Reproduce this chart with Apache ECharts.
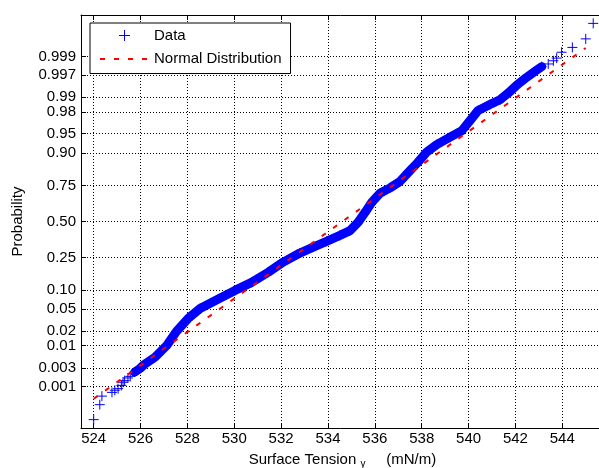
<!DOCTYPE html>
<html>
<head>
<meta charset="utf-8">
<script src="https://cdn.jsdelivr.net/npm/echarts@6/dist/echarts.min.js"></script>
<style>html,body{margin:0;padding:0;background:#fff}#c{width:599px;height:468px}</style>
</head>
<body>
<div id="c"></div>
<script>
// ---- data ----
// surface tension (mN/m) and normal score (standard normal quantile of the plotting position)
const lowTailTension = [524.00, 524.26, 524.35, 524.78, 524.90, 525.04, 525.18, 525.25, 525.32, 525.46, 525.56];
const lowTailScore   = [-3.71, -3.43, -3.27, -3.20, -3.16, -3.13, -3.07, -3.01, -2.98, -2.93, -2.90];

const denseTension = [525.75, 525.98, 526.15, 526.62, 527.12, 527.53, 528.04, 528.54, 529.32, 530.03,
                      530.74, 531.45, 532.09, 532.80, 533.37, 533.94, 534.51, 534.94, 535.29, 535.58,
                      535.87, 536.22, 536.65, 537.07, 537.41, 537.82, 538.21, 538.64, 539.21, 539.71,
                      540.06, 540.41, 540.91, 541.34, 541.68, 542.05, 542.48, 542.83, 543.12];
const denseScore   = [-2.82, -2.75, -2.68, -2.54, -2.32, -2.06, -1.81, -1.63, -1.45, -1.29,
                      -1.14, -0.95, -0.76, -0.59, -0.48, -0.37, -0.26, -0.17, -0.01, 0.17,
                      0.36, 0.53, 0.63, 0.75, 0.91, 1.10, 1.30, 1.44, 1.58, 1.70,
                      1.89, 2.08, 2.19, 2.28, 2.40, 2.55, 2.70, 2.81, 2.90];

const highTailTension = [543.40, 543.62, 543.76, 543.97, 544.43, 545.00, 545.32];
const highTailScore   = [2.95, 3.01, 3.06, 3.17, 3.26, 3.42, 3.71];

// fitted normal reference line (end points)
const refLineTension = [524.00, 545.00];
const refLineScore   = [-3.32, 3.25];

// tick labels
const probTickLabels = ['0.001','0.003','0.01','0.02','0.05','0.10','0.25','0.50','0.75','0.90','0.95','0.98','0.99','0.997','0.999'];
const tensionTicks = [524, 526, 528, 530, 532, 534, 536, 538, 540, 542, 544];

// ---- normal probability scale (inverse standard normal CDF) ----
function probit(p) {
  const a=[-3.969683028665376e+01,2.209460984245205e+02,-2.759285104469687e+02,1.383577518672690e+02,-3.066479806614716e+01,2.506628277459239e+00];
  const b=[-5.447609879822406e+01,1.615858368580409e+02,-1.556989798598866e+02,6.680131188771972e+01,-1.328068155288572e+01];
  const c=[-7.784894002430293e-03,-3.223964580411365e-01,-2.400758277161838e+00,-2.549732539343734e+00,4.374664141464968e+00,2.938163982698783e+00];
  const d=[7.784695709041462e-03,3.224671290700398e-01,2.445134137142996e+00,3.754408661907416e+00];
  const pl=0.02425, ph=1-pl; let q, r;
  if (p < pl) { q=Math.sqrt(-2*Math.log(p)); return (((((c[0]*q+c[1])*q+c[2])*q+c[3])*q+c[4])*q+c[5])/((((d[0]*q+d[1])*q+d[2])*q+d[3])*q+1); }
  if (p > ph) { q=Math.sqrt(-2*Math.log(1-p)); return -(((((c[0]*q+c[1])*q+c[2])*q+c[3])*q+c[4])*q+c[5])/((((d[0]*q+d[1])*q+d[2])*q+d[3])*q+1); }
  q=p-0.5; r=q*q;
  return (((((a[0]*r+a[1])*r+a[2])*r+a[3])*r+a[4])*r+a[5])*q/(((((b[0]*r+b[1])*r+b[2])*r+b[3])*r+b[4])*r+1);
}
const probTickValues = probTickLabels.map(s => probit(parseFloat(s)));

const pair = (xs, ys) => xs.map((x, i) => [x, ys[i]]);
const allData = pair(lowTailTension, lowTailScore).concat(pair(denseTension, denseScore), pair(highTailTension, highTailScore));
const bandData = pair(denseTension, denseScore);
const refData = pair(refLineTension, refLineScore);

const FONT = "'Liberation Sans', Arial, sans-serif";
const plusPath = 'path://M0,5L10,5M5,0L5,10';

const chart = echarts.init(document.getElementById('c'), null, {renderer: 'canvas'});
chart.setOption({
  animation: false,
  backgroundColor: '#fff',
  grid: {left: 81, right: -5, top: 15, bottom: 40, containLabel: false, outerBoundsMode: 'none'},
  legend: {
    orient: 'vertical', left: 90, top: 23,
    data: [{name: 'Data'}, {name: 'Normal Distribution', itemStyle: {opacity: 0}}],
    itemWidth: 49, itemHeight: 11, itemGap: 8.5,
    padding: [5, 9, 7, 9],
    borderColor: '#000', borderWidth: 1, borderRadius: 0, backgroundColor: '#fff',
    textStyle: {fontSize: 15, color: '#000', fontFamily: FONT},
    itemStyle: {borderWidth: 1},
    selectedMode: false
  },
  xAxis: [{
    type: 'value', position: 'bottom', min: 523.458, max: 545.78,
    axisLine: {show: true, onZero: false, lineStyle: {color: '#000', width: 1}},
    axisTick: {show: true, inside: true, length: 5, customValues: tensionTicks, lineStyle: {color: '#000'}},
    axisLabel: {show: true, customValues: tensionTicks, margin: 3, color: '#000', fontSize: 15, fontFamily: FONT, formatter: v => String(v)},
    splitLine: {show: true, lineStyle: {type: [1, 2], color: '#000', width: 1}},
    name: 'Surface Tension {g|γ}     (mN/m)', nameLocation: 'middle', nameGap: 23,
    nameTextStyle: {fontSize: 15, color: '#000', fontFamily: FONT, lineHeight: 18,
      rich: {g: {fontSize: 10, color: '#000', fontFamily: FONT, verticalAlign: 'bottom', lineHeight: 12}}}
  }, {
    type: 'value', position: 'top', min: 523.458, max: 545.78,
    axisLine: {show: true, onZero: false, lineStyle: {color: '#000', width: 1}},
    axisTick: {show: true, inside: true, length: 5, customValues: tensionTicks, lineStyle: {color: '#000'}},
    axisLabel: {show: false},
    splitLine: {show: false}
  }],
  yAxis: {
    type: 'value', min: -3.867, max: 3.867,
    axisLine: {show: true, onZero: false, lineStyle: {color: '#000', width: 1}},
    axisTick: {show: true, inside: true, length: 5, customValues: probTickValues, lineStyle: {color: '#000'}},
    axisLabel: {show: true, customValues: probTickValues, margin: 5, color: '#000', fontSize: 15, fontFamily: FONT,
      formatter: v => {
        let best = 0;
        probTickValues.forEach((t, i) => { if (Math.abs(t - v) < Math.abs(probTickValues[best] - v)) best = i; });
        return probTickLabels[best];
      }},
    splitLine: {show: true, lineStyle: {type: [1, 2], color: '#000', width: 1}},
    name: 'Probability', nameLocation: 'middle', nameRotate: 90, nameGap: 56,
    nameTextStyle: {fontSize: 15, color: '#000', fontFamily: FONT}
  },
  series: [{
    name: 'Data band', type: 'line', xAxisIndex: 0, data: bandData,
    symbol: 'none', silent: true, z: 2,
    lineStyle: {color: '#0000ff', width: 9, cap: 'round', join: 'round'}
  }, {
    name: 'Data', type: 'scatter', xAxisIndex: 0, data: allData,
    symbol: plusPath, symbolSize: 10, z: 3,
    itemStyle: {color: 'rgba(0,0,0,0)', borderColor: '#0000ff', borderWidth: 1, opacity: 1}
  }, {
    name: 'Normal Distribution', type: 'line', xAxisIndex: 0, data: refData,
    symbol: 'none', z: 4,
    itemStyle: {color: '#ff0000', opacity: 0},
    lineStyle: {color: '#ff0000', width: 2, type: [5, 9], opacity: 1}
  }]
});
</script>
</body>
</html>
